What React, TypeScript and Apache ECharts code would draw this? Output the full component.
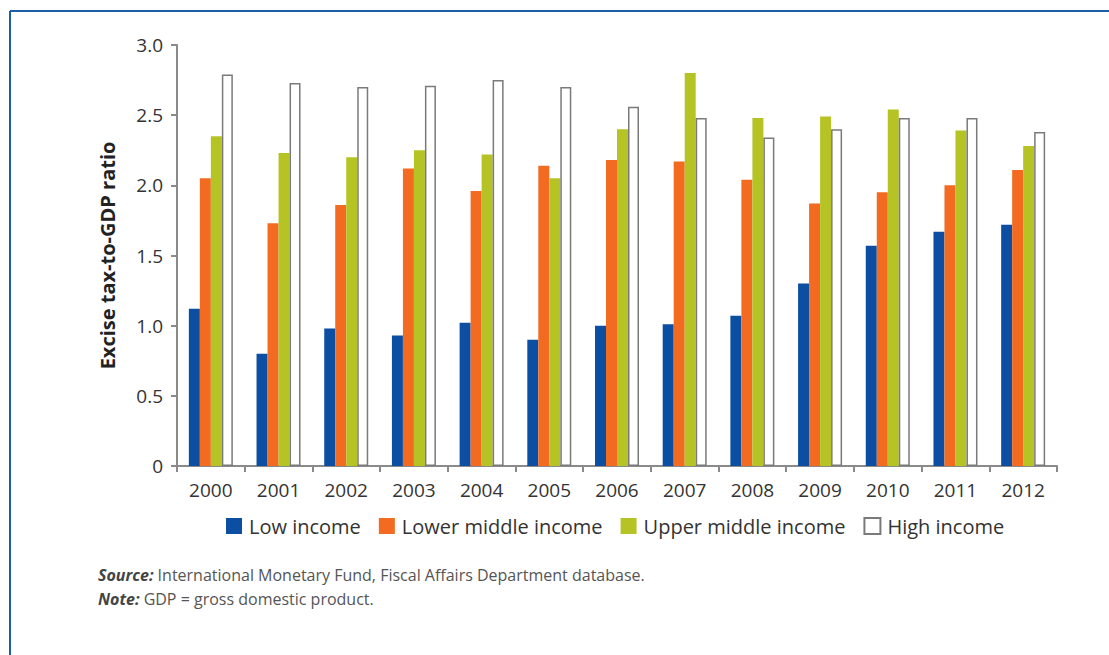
import React, { useEffect, useRef } from "react";
import * as echarts from "echarts";

const years = ["2000","2001","2002","2003","2004","2005","2006","2007","2008","2009","2010","2011","2012"];
const lowIncome = [1.12,0.80,0.98,0.93,1.02,0.90,1.00,1.01,1.07,1.30,1.57,1.67,1.72];
const lowerMiddle = [2.05,1.73,1.86,2.12,1.96,2.14,2.18,2.17,2.04,1.87,1.95,2.00,2.11];
const upperMiddle = [2.35,2.23,2.20,2.25,2.22,2.05,2.40,2.80,2.48,2.49,2.54,2.39,2.28];
const highIncome = [2.79,2.73,2.70,2.71,2.75,2.70,2.56,2.48,2.34,2.40,2.48,2.48,2.38];
const seriesNames = ["Low income","Lower middle income","Upper middle income","High income"];
const yTicks = [0,0.5,1,1.5,2,2.5,3];

const FONT = "'Open Sans', 'Noto Sans', sans-serif";

export default function App() {
  const ref = useRef<HTMLDivElement>(null);
  useEffect(() => {
    document.body.style.margin = "0";
    const chart = echarts.init(ref.current!, null, { renderer: "svg" });
    const barBase = { type: "bar", barWidth: 11, barGap: "0%" };
    chart.setOption({
      animation: false,
      backgroundColor: "#ffffff",
      textStyle: { fontFamily: FONT },
      grid: { left: 177, right: 52, top: 45, bottom: 189, containLabel: false },
      xAxis: {
        type: "category",
        data: years,
        axisLine: { lineStyle: { color: "#8a8a8a", width: 2 } },
        axisTick: { show: true, alignWithLabel: false, length: 6, lineStyle: { color: "#8a8a8a", width: 2 } },
        axisLabel: { color: "#333", fontSize: 19, margin: 14, fontFamily: FONT },
      },
      yAxis: {
        type: "value",
        min: yTicks[0],
        max: yTicks[yTicks.length - 1],
        interval: 0.5,
        name: "Excise tax-to-GDP ratio",
        nameLocation: "middle",
        nameRotate: 90,
        nameGap: 60,
        nameTextStyle: { color: "#222", fontSize: 20, fontWeight: "bold", fontFamily: FONT },
        axisLine: { show: true, lineStyle: { color: "#8a8a8a", width: 2 } },
        axisTick: { show: true, length: 6, lineStyle: { color: "#8a8a8a", width: 2 } },
        splitLine: { show: false },
        axisLabel: {
          color: "#333",
          fontSize: 19,
          margin: 14,
          fontFamily: FONT,
          formatter: (v: number) => (v === 0 ? "0" : v.toFixed(1)),
        },
      },
      legend: {
        left: 221,
        top: 511,
        icon: "rect",
        itemWidth: 16,
        itemHeight: 16,
        itemGap: 18,
        textStyle: { color: "#333", fontSize: 20, fontFamily: FONT, padding: [0, 0, 0, 2] },
        data: seriesNames,
      },
      series: [
        { ...barBase, name: seriesNames[0], data: lowIncome, itemStyle: { color: "#0b4ea2" } },
        { ...barBase, name: seriesNames[1], data: lowerMiddle, itemStyle: { color: "#f26b21" } },
        { ...barBase, name: seriesNames[2], data: upperMiddle, itemStyle: { color: "#b5c424" } },
        { ...barBase, name: seriesNames[3], data: highIncome, itemStyle: { color: "#ffffff", borderColor: "#7a7a7a", borderWidth: 1.5 } },
      ],
      graphic: [
        { type: "line", shape: { x1: 10, y1: 11, x2: 1109, y2: 11 }, style: { stroke: "#1c5fa6", lineWidth: 2 } },
        { type: "line", shape: { x1: 10, y1: 11, x2: 10, y2: 655 }, style: { stroke: "#1c5fa6", lineWidth: 2 } },
        {
          type: "text",
          left: 98,
          top: 567,
          style: {
            text: "{b|Source:} International Monetary Fund, Fiscal Affairs Department database.",
            fill: "#555",
            font: `16px ${FONT}`,
            rich: {
              b: { fontStyle: "italic", fontWeight: "bold", fontSize: 16, fill: "#444", fontFamily: FONT },
            },
          },
        },
        {
          type: "text",
          left: 98,
          top: 591,
          style: {
            text: "{b|Note:} GDP = gross domestic product.",
            fill: "#555",
            font: `16px ${FONT}`,
            rich: {
              b: { fontStyle: "italic", fontWeight: "bold", fontSize: 16, fill: "#444", fontFamily: FONT },
            },
          },
        },
      ],
    });
    return () => chart.dispose();
  }, []);
  return <div ref={ref} style={{ position: "fixed", left: 0, top: 0, width: 1109, height: 655 }} />;
}
